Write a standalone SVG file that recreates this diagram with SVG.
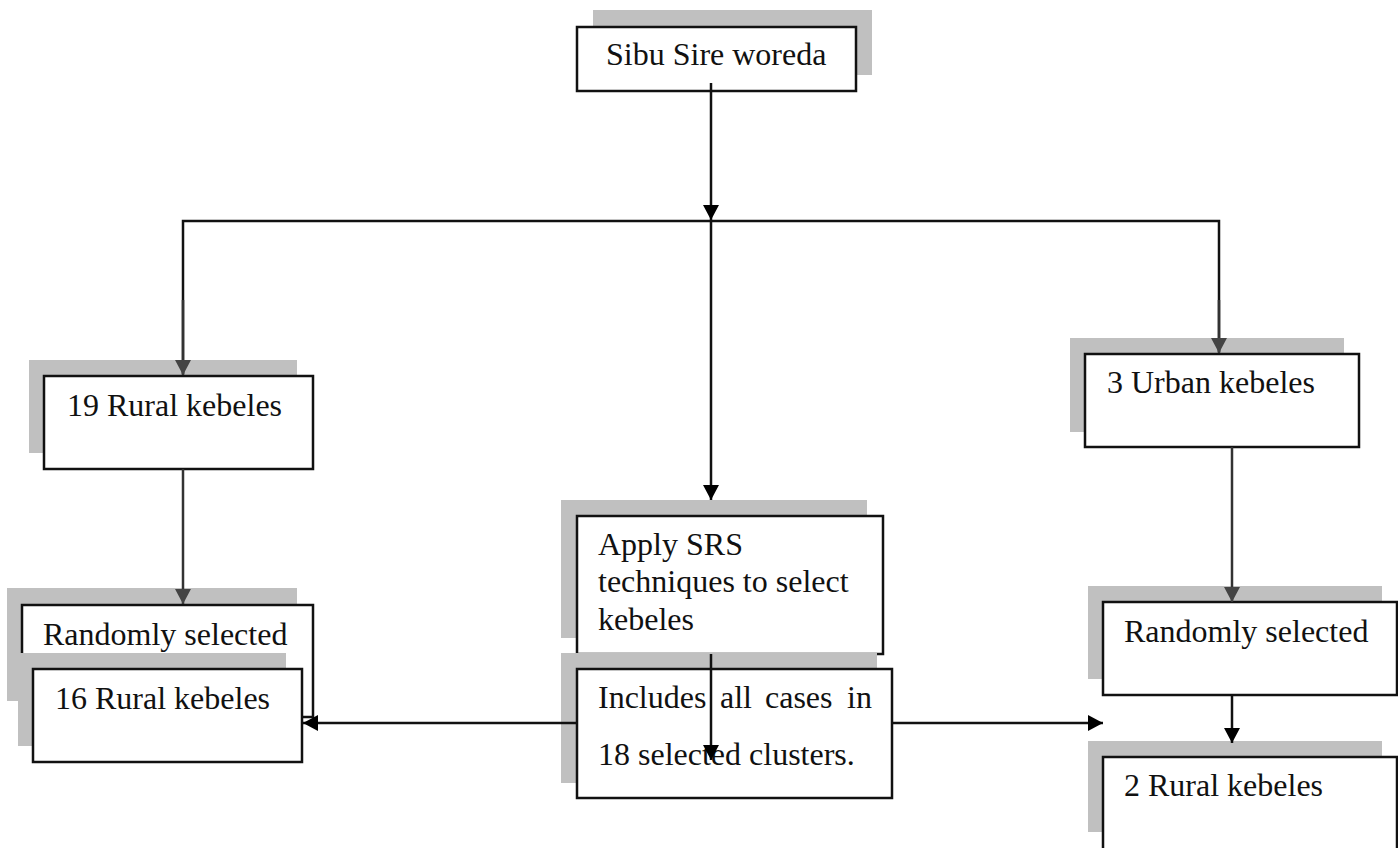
<svg xmlns="http://www.w3.org/2000/svg" width="1398" height="848" viewBox="0 0 1398 848">
<style>
.sh{fill:#c0c0c0;stroke:none}
.bx{fill:#fff;stroke:#111;stroke-width:2.5}
.t{font-family:"Liberation Serif","Times New Roman",serif;font-size:32px;fill:#111}
.c{fill:none;stroke:#111;stroke-width:2.5}
.g{fill:none;stroke:#333;stroke-width:2.5}
</style>
<defs>
<marker id="ab" markerUnits="userSpaceOnUse" markerWidth="16" markerHeight="16" refX="15" refY="8" orient="auto" viewBox="0 0 16 16"><path d="M0,0 L15,8 L0,16 z" fill="#000"/></marker>
<marker id="ag" markerUnits="userSpaceOnUse" markerWidth="16" markerHeight="16" refX="15" refY="8" orient="auto" viewBox="0 0 16 16"><path d="M0,0 L15,8 L0,16 z" fill="#444"/></marker>
</defs>
<rect width="1398" height="848" fill="#fff"/>
<g id="n-woreda">
<rect class="sh" x="593" y="10" width="279" height="65"/>
<rect class="bx" x="577" y="27" width="279" height="64"/>
<text class="t" x="606" y="65">Sibu Sire woreda</text>
</g>
<g id="n-rural19">
<rect class="sh" x="29" y="360" width="268" height="93"/>
<rect class="bx" x="44" y="376" width="269" height="93"/>
<text class="t" x="67" y="416">19 Rural kebeles</text>
</g>
<g id="n-urban3">
<rect class="sh" x="1070" y="338" width="274" height="94"/>
<rect class="bx" x="1085" y="354" width="274" height="93"/>
<text class="t" x="1107" y="393">3 Urban kebeles</text>
</g>
<g id="n-srs">
<rect class="sh" x="561" y="500" width="306" height="138"/>
<rect class="bx" x="577" y="516" width="306" height="138"/>
<text class="t" x="598" y="555">Apply SRS</text>
<text class="t" x="598" y="592">techniques to select</text>
<text class="t" x="598" y="630">kebeles</text>
</g>
<g id="n-includes">
<rect class="sh" x="561" y="653" width="316" height="130"/>
<rect class="bx" x="577" y="669" width="315" height="129"/>
<text class="t" x="598" y="708">Includes</text>
<text class="t" x="720" y="708">all</text>
<text class="t" x="765" y="708">cases</text>
<text class="t" x="847" y="708">in</text>
<text class="t" x="598" y="765">18 selected clusters.</text>
</g>
<g id="n-random-left">
<rect class="sh" x="7" y="588" width="290" height="113"/>
<rect class="bx" x="22" y="605" width="291" height="112"/>
<text class="t" x="43" y="645">Randomly selected</text>
</g>
<g id="n-rural16">
<rect class="sh" x="18" y="653" width="268" height="93"/>
<rect class="bx" x="33" y="669" width="269" height="93"/>
<text class="t" x="55" y="709">16 Rural kebeles</text>
</g>
<g id="n-random-right">
<rect class="sh" x="1088" y="586" width="294" height="93"/>
<rect class="bx" x="1103" y="602" width="294" height="93"/>
<text class="t" x="1124" y="642">Randomly selected</text>
</g>
<g id="n-rural2">
<rect class="sh" x="1088" y="741" width="294" height="91"/>
<rect class="bx" x="1103" y="757" width="294" height="110"/>
<text class="t" x="1124" y="796">2 Rural kebeles</text>
</g>
<g id="connectors">
<line class="c" x1="711" y1="83" x2="711" y2="220" marker-end="url(#ab)"/>
<polyline class="c" points="183,374 183,221 1219,221 1219,352"/>
<line class="g" x1="183" y1="300" x2="183" y2="375" marker-end="url(#ag)"/>
<line class="g" x1="1219" y1="300" x2="1219" y2="353" marker-end="url(#ag)"/>
<line class="c" x1="711" y1="221" x2="711" y2="500" marker-end="url(#ab)"/>
<line class="g" x1="183" y1="469" x2="183" y2="604" marker-end="url(#ag)"/>
<line class="g" x1="1232" y1="447" x2="1232" y2="602" marker-end="url(#ag)"/>
<line class="c" x1="711" y1="654" x2="711" y2="760" marker-end="url(#ab)"/>
<line class="c" x1="577" y1="723" x2="303" y2="723" marker-end="url(#ab)"/>
<line class="c" x1="892" y1="723" x2="1103" y2="723" marker-end="url(#ab)"/>
<line class="c" x1="1232" y1="695" x2="1232" y2="743" marker-end="url(#ab)"/>
</g>
</svg>
